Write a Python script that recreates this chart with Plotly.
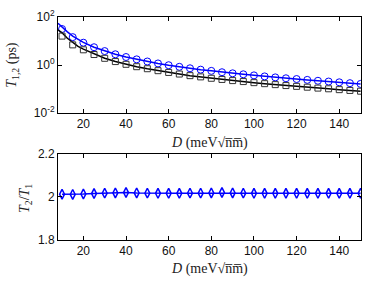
import plotly.graph_objects as go
from plotly.subplots import make_subplots

# Data
D = [10, 15, 20, 25, 30, 35, 40, 45, 50, 55, 60, 65, 70, 75, 80, 85, 90, 95,
     100, 105, 110, 115, 120, 125, 130, 135, 140, 145, 150]
T2 = [31.6, 14.5, 8.5, 5.5, 3.8, 2.8, 2.15, 1.72, 1.40, 1.16, 0.98, 0.84, 0.73,
      0.64, 0.57, 0.50, 0.45, 0.41, 0.37, 0.335, 0.305, 0.28, 0.26, 0.24, 0.22,
      0.205, 0.19, 0.175, 0.163]
T1 = [16.0, 6.9, 4.3, 2.73, 1.9, 1.39, 1.07, 0.85, 0.70, 0.58, 0.49, 0.42, 0.36,
      0.32, 0.28, 0.25, 0.224, 0.204, 0.184, 0.167, 0.152, 0.139, 0.129, 0.119,
      0.109, 0.102, 0.094, 0.087, 0.081]
RATIO = [2.013, 2.012, 2.014, 2.016, 2.018, 2.019, 2.021, 2.019, 2.018, 2.017,
         2.017, 2.017, 2.018, 2.018, 2.019, 2.021, 2.019, 2.018, 2.017, 2.017,
         2.017, 2.017, 2.017, 2.017, 2.017, 2.017, 2.017, 2.017, 2.017]

# theory curves (continuous lines); small-D part deviates from markers
D_LINE_HEAD = [8.1, 10, 12.5, 15, 17.5, 20]
T2_LINE_HEAD = [55, 38, 24, 16, 11.5, 8.8]
T1_LINE_HEAD = [29, 22, 13, 8.8, 6.0, 4.6]
D_LINE = D_LINE_HEAD + D[3:]
T2_LINE = T2_LINE_HEAD + T2[3:]
T1_LINE = T1_LINE_HEAD + [2.9] + T1[4:]

X_TICKS = [20, 40, 60, 80, 100, 120, 140]
Y1_TICKS = [0.01, 1, 100]
Y1_TEXT = ["10<sup>-2</sup>", "10<sup>0</sup>", "10<sup>2</sup>"]
Y2_TICKS = [1.8, 2.0, 2.2]
Y2_TEXT = ["1.8", "2", "2.2"]

X_TITLE = "<i>D</i> (meV√n\u0305m\u0305)"
Y1_TITLE = "<i>T</i><sub>1,2</sub> (ps)"
Y2_TITLE = "<i>T</i><sub>2</sub>/<i>T</i><sub>1</sub>"

BLUE = "#0000ff"
BLACK = "#000000"

fig = make_subplots(rows=2, cols=1, shared_xaxes=False, vertical_spacing=0.18)

fig.add_trace(go.Scatter(x=D_LINE, y=T2_LINE, mode="lines",
                         line=dict(color=BLUE, width=1.5), showlegend=False), 1, 1)
fig.add_trace(go.Scatter(x=D, y=T2, mode="markers",
                         marker=dict(symbol="circle-open", size=7, color=BLUE,
                                     line=dict(width=1)), showlegend=False), 1, 1)
fig.add_trace(go.Scatter(x=D_LINE, y=T1_LINE, mode="lines",
                         line=dict(color=BLACK, width=1.5), showlegend=False), 1, 1)
fig.add_trace(go.Scatter(x=D, y=T1, mode="markers",
                         marker=dict(symbol="square-open", size=6, color="#333",
                                     line=dict(width=1)), showlegend=False), 1, 1)
fig.add_trace(go.Scatter(x=D, y=RATIO, mode="lines+markers",
                         line=dict(color=BLUE, width=1.5),
                         marker=dict(symbol="diamond-tall-open", size=7, color=BLUE,
                                     line=dict(width=1.5)), showlegend=False), 2, 1)

tickfont = dict(family="Liberation Sans, Arial, sans-serif", size=12, color="#111")
serif = dict(family="Liberation Serif, Times New Roman, serif", size=14, color="#222")

common_x = dict(range=[8.1, 150.2], tickvals=X_TICKS, ticks="inside", ticklen=4,
                tickcolor="#000", showline=True, linecolor="#000", linewidth=1,
                mirror="allticks", showgrid=False, zeroline=False, tickfont=tickfont)
fig.update_xaxes(**common_x, row=1, col=1)
fig.update_xaxes(**common_x, row=2, col=1)

fig.update_yaxes(type="log", range=[-2, 2], tickvals=Y1_TICKS, ticktext=Y1_TEXT,
                 ticks="inside", ticklen=4, tickcolor="#000", showline=True,
                 linecolor="#000", linewidth=1, mirror="allticks", showgrid=False,
                 zeroline=False, tickfont=tickfont, row=1, col=1)
fig.update_yaxes(range=[1.8, 2.2], tickvals=Y2_TICKS, ticktext=Y2_TEXT,
                 ticks="inside", ticklen=4, tickcolor="#000", showline=True,
                 linecolor="#000", linewidth=1, mirror="allticks", showgrid=False,
                 zeroline=False, tickfont=tickfont, row=2, col=1)

# axis titles placed as annotations (paper coords), matching the reference positions
fig.add_annotation(text=X_TITLE, xref="paper", yref="paper", x=0.5, y=0.435,
                   showarrow=False, font=serif, xanchor="center", yanchor="middle")
fig.add_annotation(text=X_TITLE, xref="paper", yref="paper", x=0.5, y=-0.128,
                   showarrow=False, font=serif, xanchor="center", yanchor="middle")
fig.add_annotation(text=Y1_TITLE, xref="paper", yref="paper", x=-0.149, y=0.785,
                   showarrow=False, font=serif, textangle=-90,
                   xanchor="center", yanchor="middle")
fig.add_annotation(text=Y2_TITLE, xref="paper", yref="paper", x=-0.109, y=0.188,
                   showarrow=False, font=serif, textangle=-90,
                   xanchor="center", yanchor="middle")

fig.update_layout(
    width=390, height=281,
    margin=dict(l=58, r=29, t=17, b=41, autoexpand=False),
    paper_bgcolor="white", plot_bgcolor="white",
)
fig.layout.yaxis.domain = [0.5695, 1.0]
fig.layout.yaxis2.domain = [0.0, 0.3857]

fig.write_html("out.html",
               config={"displayModeBar": False, "staticPlot": True},
               post_script="document.body.style.margin='0';document.body.style.overflow='hidden';")
